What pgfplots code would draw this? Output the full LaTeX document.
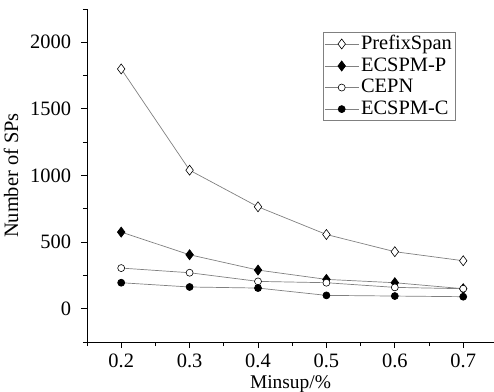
\documentclass[border=0pt]{standalone}
\usepackage{pgfplots}
\pgfplotsset{compat=1.18}
\usepackage{fontspec}
\setmainfont{Liberation Serif}
\begin{document}
\fontsize{20.5}{22}\selectfont
\begin{tikzpicture}
\begin{axis}[
  scale only axis,
  width=407bp, height=333bp,
  xmin=0.15, xmax=0.745,
  ymin=-250, ymax=2250,
  axis x line*=bottom, axis y line*=left,
  axis line style={-, black, line width=0.9pt},
  xtick={0.2,0.3,0.4,0.5,0.6,0.7},
  xticklabels={0.2,0.3,0.4,0.5,0.6,0.7},
  minor xtick={0.15,0.25,0.35,0.45,0.55,0.65},
  ytick={0,500,1000,1500,2000},
  minor ytick={-250,250,750,1250,1750,2250},
  tick align=outside,
  major tick length=6bp, minor tick length=4bp,
  tick style={black, line width=0.9pt},
  /pgf/number format/assume math mode=true,
  ticklabel style={font=\fontsize{20.5}{22}\selectfont},
  yticklabel style={/pgf/number format/1000 sep={}, xshift=-3bp},
  xticklabel style={inner sep=0pt, anchor=north, yshift=-6bp},
  xlabel={Minsup/\%}, ylabel={Number of SPs},
  label style={font=\fontsize{20.5}{22}\selectfont},
  xlabel style={at={(rel axis cs:0.5,0)}, anchor=base, inner sep=0pt, yshift=-46bp, font=\fontsize{19.5}{20}\selectfont},
  ylabel style={yshift=-2bp},
  legend style={at={(0.58,0.931)}, anchor=north west, draw=gray, line width=0.6pt,
    font=\fontsize{20.5}{20}\selectfont, inner sep=1pt, row sep=1pt},
  legend cell align=left,
  legend image code/.code={\draw[mark repeat=2,mark phase=2] plot coordinates {(0cm,0cm) (0.6cm,0cm) (1.2cm,0cm)};},
  every axis plot/.append style={gray, line width=0.7pt},
]
\coordinate (sw) at (rel axis cs:0,0);
\coordinate (ne) at (rel axis cs:1,1);
\addplot[mark=diamond*, mark size=5bp, mark options={fill=white, draw=black, line width=0.6pt}] coordinates {
(0.2,1800) (0.3,1040) (0.4,765) (0.5,557) (0.6,428) (0.7,360)};
\addlegendentry{PrefixSpan}
\addplot[mark=diamond*, mark size=5bp, mark options={fill=black, draw=black}] coordinates {
(0.2,575) (0.3,405) (0.4,290) (0.5,220) (0.6,195) (0.7,150)};
\addlegendentry{ECSPM-P}
\addplot[mark=*, mark size=3.5bp, mark options={fill=white, draw=black, line width=0.6pt}] coordinates {
(0.2,305) (0.3,270) (0.4,205) (0.5,195) (0.6,160) (0.7,150)};
\addlegendentry{CEPN}
\addplot[mark=*, mark size=3.5bp, mark options={fill=black, draw=black}] coordinates {
(0.2,195) (0.3,163) (0.4,155) (0.5,100) (0.6,95) (0.7,90)};
\addlegendentry{ECSPM-C}
\end{axis}
\pgfresetboundingbox
\path ([shift={(-87bp,-50bp)}]sw) rectangle ([shift={(0bp,9bp)}]ne);
\end{tikzpicture}
\end{document}
